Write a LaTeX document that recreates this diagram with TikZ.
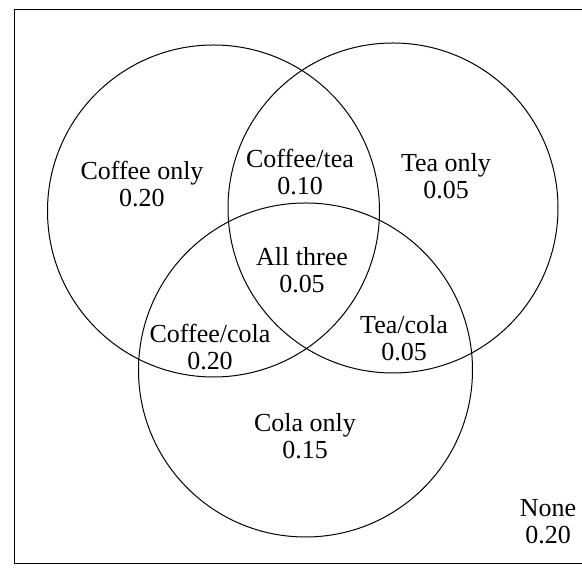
\documentclass[tikz,border=0pt]{standalone}
\usepackage{fontspec}
\setmainfont{Liberation Serif}

\begin{document}
\begin{tikzpicture}[x=1pt, y=1pt, line width=1pt,
    every node/.style={font=\fontsize{26}{27}\selectfont, align=center}]
    \useasboundingbox (0,0) rectangle (582,569);
    \draw (582,559) -- (14,559) -- (14,5) -- (582,5); % Sample space
    \draw (213.5,358) circle (166); % Coffee
    \draw (393,361) circle (165);   % Tea
    \draw (305.5,199) circle (167); % Cola
    \node (coffee)     at (142,385) {Coffee only\\0.20};
    \node (coffeetea)  at (300,397) {Coffee/tea\\0.10};
    \node (tea)        at (446,393) {Tea only\\0.05};
    \node (all)        at (302,299) {All three\\0.05};
    \node (coffeecola) at (210,222) {Coffee/cola\\0.20};
    \node (teacola)    at (404,231) {Tea/cola\\0.05};
    \node (cola)       at (305,133) {Cola only\\0.15};
    \node (none)       at (548,47)  {None\\0.20};
\end{tikzpicture}
\end{document}
